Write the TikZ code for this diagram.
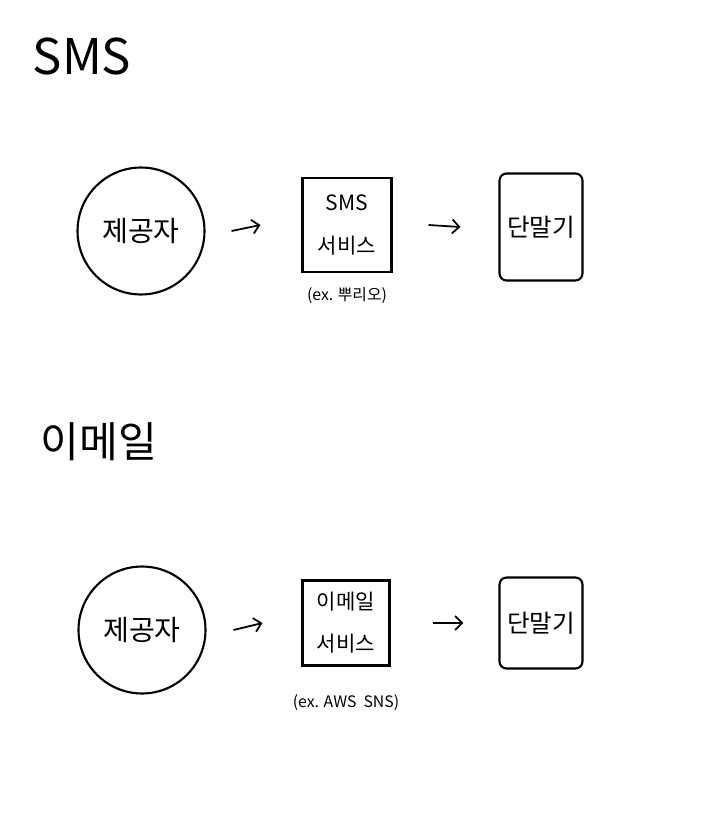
\documentclass[tikz,border=0pt]{standalone}
\usepackage{fontspec}
\setmainfont{Noto Sans CJK KR}
\usepackage{tikz}
\usetikzlibrary{arrows.meta,positioning}

\begin{document}
\begin{tikzpicture}[x=0.02cm, y=-0.02cm, line width=1.2pt,
        party/.style={circle, draw, minimum size=2.54cm, font=\fontsize{16}{18}\selectfont},
        service/.style={rectangle, draw, align=center, font=\fontsize{12}{24}\selectfont},
        device/.style={rectangle, draw, rounded corners=4pt, minimum width=1.66cm, font=\fontsize{14}{16}\selectfont},
        flow/.style={-{Straight Barb[length=4pt, width=8pt]}, line width=1pt},
        note/.style={font=\fontsize{9}{11}\selectfont},
        heading/.style={font=\fontsize{28}{32}\selectfont}]
        \useasboundingbox (0,0) rectangle (719,831);

        % SMS
        \node[heading] (T1) at (82,56) {SMS};
        \node[party] (P1) at (141,231) {제공자};
        \node[service, minimum width=1.78cm, minimum height=1.88cm] (S1) at (347,225) {SMS\\서비스};
        \node[note, below=4pt of S1] (E1) {(ex. 뿌리오)};
        \node[device, minimum height=2.14cm] (D1) at (541,227) {단말기};

        % Email
        \node[heading, font=\fontsize{24}{28}\selectfont] (T2) at (99,442) {이메일};
        \node[party] (P2) at (142,630) {제공자};
        \node[service, minimum width=1.74cm, minimum height=1.7cm] (S2) at (346,623) {이메일\\서비스};
        \node[note, below=12pt of S2] (E2) {(ex. AWS\ \ SNS)};
        \node[device, minimum height=1.82cm] (D2) at (541,623) {단말기};

        % Draw edges
        \draw[flow] ([xshift=0.52cm]P1.east) -- ([xshift=-0.82cm]S1.west);
        \draw[flow] ([xshift=0.72cm]S1.east) -- ([xshift=-0.76cm]D1.west);
        \draw[flow] ([xshift=0.54cm]P2.east) -- ([xshift=-0.78cm]S2.west);
        \draw[flow] ([xshift=0.84cm]S2.east) -- ([xshift=-0.7cm]D2.west);
\end{tikzpicture}
\end{document}
